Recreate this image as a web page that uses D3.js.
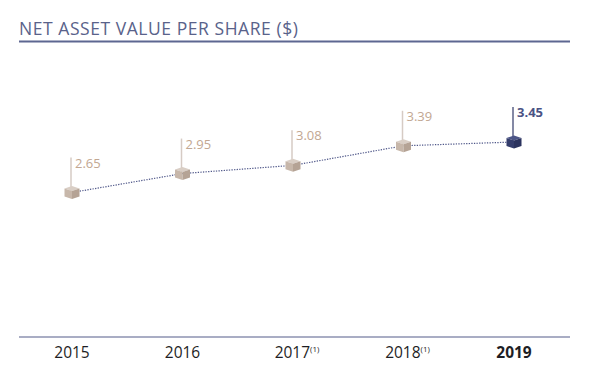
<!DOCTYPE html>
<html>
<head>
<meta charset="utf-8">
<script src="https://d3js.org/d3.v7.min.js"></script>
<style>
  body { margin: 0; background: #fff; }
  text { font-family: "Open Sans", Lato, sans-serif; }
</style>
</head>
<body>
<div class="vis"></div>
<script>
  const years = ["2015", "2016", "2017", "2018", "2019"];
  const notes = ["", "", "(1)", "(1)", ""];
  const values = [2.65, 2.95, 3.08, 3.39, 3.45];
  const title = "NET ASSET VALUE PER SHARE ($)";

  const width = 591, height = 370;
  const data = years.map((y, i) => ({ year: y, note: notes[i], value: values[i], last: i === years.length - 1 }));

  const svg = d3.select(".vis").append("svg")
    .attr("width", width)
    .attr("height", height);

  const x = d3.scalePoint().domain(years).range([72, 514]);
  const y = d3.scaleLinear().domain([2.65, 3.45]).range([192.5, 142]);

  // title + rule
  svg.append("text")
    .attr("x", 19).attr("y", 35)
    .attr("font-size", 17.5)
    .attr("letter-spacing", 0.55)
    .attr("fill", "#59628a")
    .text(title);
  svg.append("line")
    .attr("x1", 19).attr("x2", 570).attr("y1", 41.5).attr("y2", 41.5)
    .attr("stroke", "#5d6791").attr("stroke-width", 2);

  // bottom axis
  const axis = svg.append("g").attr("transform", "translate(0,337)");
  axis.append("line")
    .attr("x1", 19).attr("x2", 570)
    .attr("stroke", "#a9adc4").attr("stroke-width", 2);
  const lbl = axis.selectAll("text.year")
    .data(data)
    .join("text")
    .attr("class", "year")
    .attr("x", d => x(d.year) + (d.note ? 4 : 0))
    .attr("y", 21)
    .attr("text-anchor", "middle")
    .attr("font-size", 15.5)
    .attr("font-weight", d => d.last ? 700 : 400)
    .attr("fill", "#1e1e24");
  lbl.append("tspan").text(d => d.year);
  lbl.filter(d => d.note).append("tspan")
    .attr("dy", -6).attr("font-size", 8)
    .text(d => d.note);

  // dotted connecting line
  svg.append("path")
    .datum(data)
    .attr("d", d3.line().x(d => x(d.year)).y(d => y(d.value)))
    .attr("fill", "none")
    .attr("stroke", "#4f5789")
    .attr("stroke-width", 1.2)
    .attr("stroke-dasharray", "1.3,1.3");

  // stems
  svg.selectAll("line.stem")
    .data(data)
    .join("line")
    .attr("class", "stem")
    .attr("x1", d => x(d.year) - 1).attr("x2", d => x(d.year) - 1)
    .attr("y1", d => y(d.value) - 35)
    .attr("y2", d => y(d.value))
    .attr("stroke", d => d.last ? "#5b6287" : "#d6cbc4")
    .attr("stroke-width", 1.5);

  // value labels
  svg.selectAll("text.val")
    .data(data)
    .join("text")
    .attr("class", "val")
    .attr("x", d => x(d.year) + 3)
    .attr("y", d => y(d.value) - 25)
    .attr("font-size", 13)
    .attr("font-weight", d => d.last ? 700 : 400)
    .attr("fill", d => d.last ? "#4a5285" : "#c2a792")
    .text(d => d.value.toFixed(2));

  // cubes
  const cube = svg.selectAll("g.cube")
    .data(data)
    .join("g")
    .attr("class", "cube")
    .attr("transform", d => `translate(${x(d.year)},${y(d.value)})`);
  const w = 7.5, t = 6.5, s = 4;
  cube.append("path")
    .attr("d", `M${-w},${-s}L0,${-t}L${w},${-s}L0,${-s + 2.5}Z`)
    .attr("fill", d => d.last ? "#4c5688" : "#d9cec5");
  cube.append("path")
    .attr("d", `M${-w},${-s}L0,${-s + 2.5}L0,${t}L${-w},${s}Z`)
    .attr("fill", d => d.last ? "#343d6c" : "#c7b7aa");
  cube.append("path")
    .attr("d", `M${w},${-s}L0,${-s + 2.5}L0,${t}L${w},${s}Z`)
    .attr("fill", d => d.last ? "#2b335e" : "#b5a395");
</script>
</body>
</html>
